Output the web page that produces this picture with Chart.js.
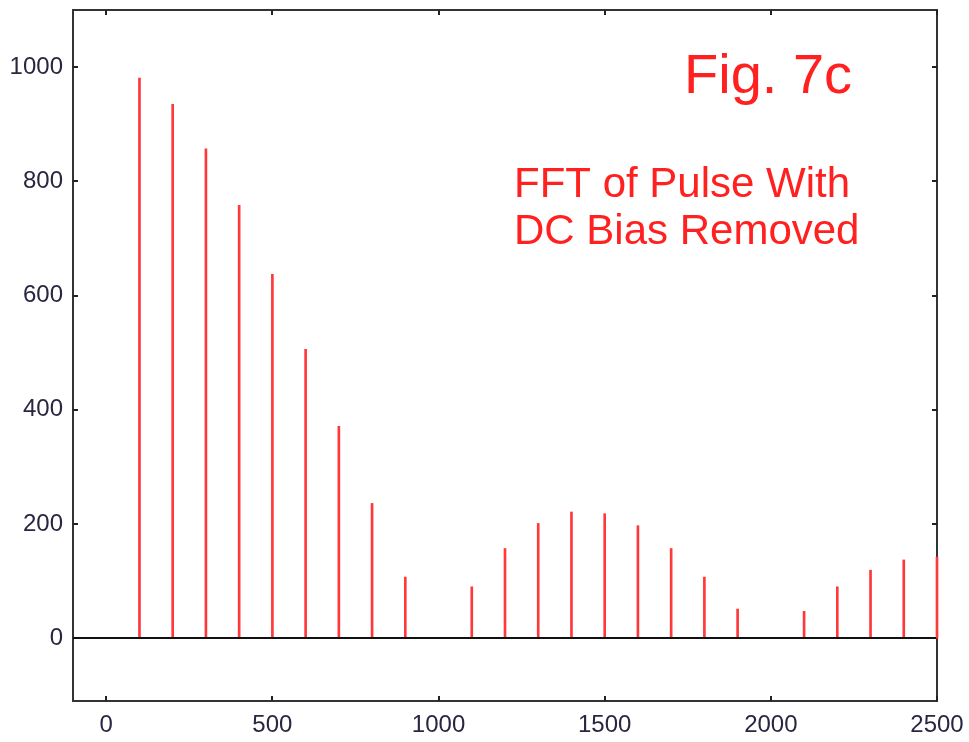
<!DOCTYPE html>
<html>
<head>
<meta charset="utf-8">
<script src="https://cdn.jsdelivr.net/npm/chart.js@4/dist/chart.umd.min.js"></script>
<style>
html,body{margin:0;padding:0;background:#fff;}
#wrap{width:969px;height:742px;}
</style>
</head>
<body>
<div id="wrap"><canvas id="c" width="969" height="742"></canvas></div>
<script>
const frequencies = [100,200,300,400,500,600,700,800,900,1000,1100,1200,1300,1400,1500,1600,1700,1800,1900,2000,2100,2200,2300,2400,2500];
const magnitudes  = [981,935,857,758,637,506,371,236,107,0,90,157,201,221,218,197,157,107,51,0,47,90,119,137,142];
const xTicks = [0,500,1000,1500,2000,2500];
const yTicks = [0,200,400,600,800,1000];
const titleText = "Fig. 7c";
const noteLines = ["FFT of Pulse With","DC Bias Removed"];

const FONT = '"Liberation Sans", Arial, sans-serif';

const framePlugin = {
  id:'frame',
  beforeDatasetsDraw(chart){
    const {ctx, chartArea:a, scales:{x,y}} = chart;
    ctx.save();
    ctx.strokeStyle='#333'; ctx.lineWidth=2;
    ctx.strokeRect(a.left,a.top,a.right-a.left,a.bottom-a.top);
    ctx.lineWidth=2; ctx.strokeStyle='#222';
    const L=5;
    xTicks.forEach(v=>{
      const px=Math.round(x.getPixelForValue(v));
      ctx.beginPath();
      ctx.moveTo(px,a.bottom); ctx.lineTo(px,a.bottom-L);
      ctx.moveTo(px,a.top); ctx.lineTo(px,a.top+L);
      ctx.stroke();
    });
    yTicks.forEach(v=>{
      const py=Math.round(y.getPixelForValue(v));
      ctx.beginPath();
      ctx.moveTo(a.left,py); ctx.lineTo(a.left+L,py);
      ctx.moveTo(a.right,py); ctx.lineTo(a.right-L,py);
      ctx.stroke();
    });
    ctx.restore();
  },
  afterDatasetsDraw(chart){
    const {ctx, chartArea:a, scales:{y}} = chart;
    ctx.save();
    ctx.strokeStyle='#111'; ctx.lineWidth=2;
    const y0 = Math.round(y.getPixelForValue(0));
    ctx.beginPath(); ctx.moveTo(a.left,y0); ctx.lineTo(a.right-1,y0); ctx.stroke();
    ctx.fillStyle='#ff2020';
    ctx.textBaseline='alphabetic';
    ctx.textAlign='left';
    ctx.font='56px '+FONT;
    ctx.fillText(titleText, 684, 93);
    ctx.font='42px '+FONT;
    ctx.fillText(noteLines[0], 514, 197);
    ctx.fillText(noteLines[1], 514, 244);
    ctx.restore();
  }
};

new Chart(document.getElementById('c'),{
  type:'bar',
  data:{
    datasets:[{
      data: frequencies.map((f,i)=>({x:f,y:magnitudes[i]})),
      backgroundColor:'#ff3838',
      borderWidth:0,
      barThickness:2,
      clip:4
    }]
  },
  options:{
    responsive:false,
    animation:false,
    layout:{padding:{top:10,right:32,left:0,bottom:0}},
    plugins:{legend:{display:false},tooltip:{enabled:false}},
    scales:{
      x:{
        type:'linear', min:-100, max:2500, offset:false,
        afterFit(s){ s.height=41; s.paddingLeft=0; s.paddingRight=0; },
        afterBuildTicks(s){ s.ticks = xTicks.map(v=>({value:v})); },
        grid:{display:false, drawTicks:false, offset:false},
        border:{display:false},
        ticks:{color:'#2a2540', font:{size:24, family:FONT}, padding:10, maxRotation:0,
               callback:v=>String(v)}
      },
      y:{
        min:-110, max:1100,
        afterFit(s){ s.width=73; s.paddingTop=0; s.paddingBottom=0; },
        afterBuildTicks(s){ s.ticks = yTicks.map(v=>({value:v})); },
        grid:{display:false, drawTicks:false},
        border:{display:false},
        ticks:{color:'#2a2540', font:{size:24, family:FONT}, padding:10,
               callback:v=>String(v)}
      }
    }
  },
  plugins:[framePlugin]
});
</script>
</body>
</html>
